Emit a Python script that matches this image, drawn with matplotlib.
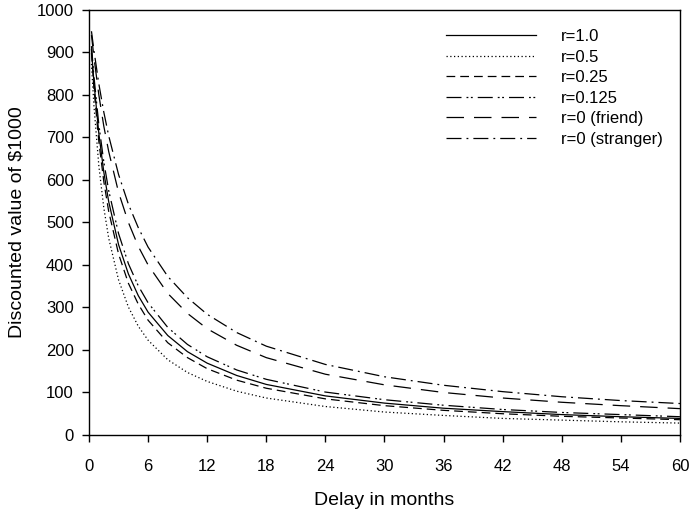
import matplotlib
matplotlib.use("Agg")
import matplotlib.pyplot as plt

# ── Data ──────────────────────────────────────────────────────────────────────
delay = [0.25, 0.5, 1, 1.5, 2, 3, 4, 5, 6, 8, 10, 12, 15, 18, 24, 30, 36, 42, 48, 54, 60]

r_1     = [907, 830, 709, 619, 549, 448, 379, 328, 289, 234, 196, 169, 140, 119, 92, 75, 63, 55, 48, 43, 39]
r_05    = [873, 775, 633, 535, 463, 365, 301, 256, 223, 177, 147, 126, 103, 87, 67, 54, 46, 39, 35, 31, 28]
r_025   = [899, 816, 690, 597, 526, 426, 357, 308, 270, 217, 182, 156, 129, 110, 85, 69, 58, 50, 44, 40, 36]
r_0125  = [915, 844, 730, 643, 575, 474, 403, 351, 311, 253, 213, 184, 153, 131, 101, 83, 70, 60, 53, 48, 43]
friend  = [941, 889, 800, 727, 667, 571, 500, 444, 400, 333, 286, 250, 211, 182, 143, 118, 100, 87, 77, 69, 62]
stranger = [950, 905, 826, 760, 704, 613, 543, 488, 442, 373, 323, 284, 241, 209, 166, 137, 117, 102, 90, 81, 74]

series = [
    ("r=1.0", r_1, "-"),
    ("r=0.5", r_05, (0, (1, 2))),
    ("r=0.25", r_025, (0, (7, 4))),
    ("r=0.125", r_0125, (0, (12, 4, 1.5, 2, 1.5, 4))),
    ("r=0 (friend)", friend, (0, (14, 8))),
    ("r=0 (stranger)", stranger, (0, (12, 4, 1.5, 4))),
]

plt.rcParams["font.family"] = ["Liberation Sans", "DejaVu Sans"]

fig = plt.figure(figsize=(6.91, 5.09), dpi=100)
ax = fig.add_axes([0.1288, 0.1454, 0.8552, 0.8350])

for label, vals, ls in series:
    ax.plot(delay, vals, color="black", lw=0.9, ls=ls, label=label)

ax.set_xlim(0, 60)
ax.set_ylim(0, 1000)
ax.set_xticks(range(0, 61, 6))
ax.set_yticks(range(0, 1001, 100))
ax.tick_params(direction="out", length=5, width=1, labelsize=12)
ax.tick_params(axis="x", pad=12)
ax.tick_params(axis="y", pad=6)
for sp in ax.spines.values():
    sp.set_linewidth(1)

ax.set_xlabel("Delay in months", fontsize=14, labelpad=13)
ax.set_ylabel("Discounted value of $1000", fontsize=14, labelpad=8)

ax.legend(loc="upper right", bbox_to_anchor=(0.997, 0.99), frameon=False,
          fontsize=12, handlelength=5.4, handletextpad=1.5, labelspacing=0.33)

fig.savefig("out.png", dpi=100)
